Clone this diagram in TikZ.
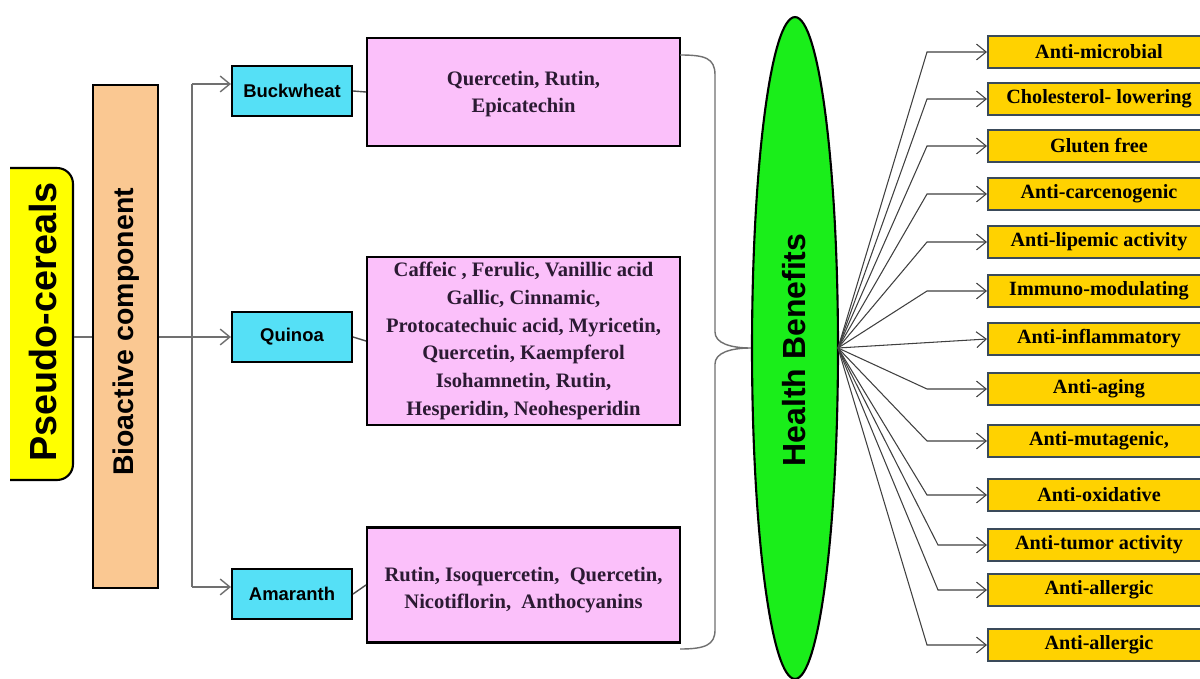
\documentclass[tikz,border=0pt]{standalone}
\usepackage{fontspec}
\setmainfont{Liberation Serif}
\newfontfamily\arialf{Liberation Sans}
\usetikzlibrary{arrows.meta,shapes.geometric}
\definecolor{yellowP}{HTML}{FFFF00}
\definecolor{orangeB}{HTML}{FAC892}
\definecolor{cyanC}{HTML}{55E0F6}
\definecolor{pinkP}{HTML}{FBC0FA}
\definecolor{greenH}{HTML}{1AEE1A}
\definecolor{goldY}{HTML}{FFD200}
\definecolor{goldB}{HTML}{3A4A5A}
\definecolor{connG}{HTML}{707070}
\definecolor{fanG}{HTML}{404040}
\definecolor{pinkT}{HTML}{2B1A33}
\begin{document}
\begin{tikzpicture}[x=0.02cm,y=-0.02cm,
  sbox/.style={draw=black, line width=1.2pt, inner sep=0pt},
  cyanbox/.style={sbox, fill=cyanC, minimum width=2.4cm, minimum height=1.0cm, font=\arialf\bfseries\fontsize{10.5}{12}\selectfont},
  pinkbox/.style={sbox, fill=pinkP, minimum width=6.26cm, align=center, text=pinkT, font=\bfseries\fontsize{11.7}{15.8}\selectfont},
  pinktext/.style={inner sep=0pt, align=center, text=pinkT, font=\bfseries\fontsize{11.7}{15.8}\selectfont},
  goldbox/.style={draw=goldB, line width=1.2pt, fill=goldY, inner sep=0pt, minimum width=4.44cm, minimum height=0.64cm, font=\bfseries\fontsize{11.5}{13}\selectfont},
  conn/.style={draw=connG, line width=0.8pt},
  arr/.style={-{Straight Barb[length=5.5pt,width=9pt]}},
  fan/.style={draw=fanG, line width=0.6pt, -{Straight Barb[length=5.5pt,width=9pt]}},
  vtext/.style={rotate=90, font=\arialf\bfseries, inner sep=0pt}
]
\clip (0,0) rectangle (1200,679);
\fill[white] (0,0) rectangle (1200,679);

% Pseudo-cereals
\begin{scope}
\clip (10,0) rectangle (100,679);
\node[draw=black, line width=1.2pt, fill=yellowP, rounded corners=9pt, minimum width=1.66cm, minimum height=6.24cm, inner sep=0pt] (pc) at (31.5,324) {};
\end{scope}
\node[vtext, font=\arialf\bfseries\fontsize{21.5}{24}\selectfont] (pct) at (43,322) {Pseudo-cereals};

% Bioactive component
\node[sbox, fill=orangeB, minimum width=1.3cm, minimum height=10.06cm] (bio) at (125.5,336.5) {};
\node[vtext, font=\arialf\bfseries\fontsize{16.2}{18}\selectfont] (biot) at (126,332) {Bioactive component};

% cultivars
\node[cyanbox] (bw) at (292,91) {Buckwheat};
\node[cyanbox] (qu) at (292,337) {Quinoa};
\node[cyanbox] (am) at (292,594) {Amaranth};

% compounds
\node[pinkbox, minimum height=2.16cm] (p1) at (523.5,92) {};
\node[pinktext] (p1t) at (523.5,94) {Quercetin, Rutin,\\Epicatechin};
\node[pinkbox, minimum height=3.36cm] (p2) at (523.5,341) {Caffeic , Ferulic, Vanillic acid\\Gallic, Cinnamic,\\Protocatechuic acid, Myricetin,\\Quercetin, Kaempferol\\Isohamnetin, Rutin,\\Hesperidin, Neohesperidin};
\node[pinkbox, minimum height=2.3cm] (p3) at (523.5,585) {};
\node[pinktext] (p3t) at (523.5,590) {Rutin, Isoquercetin,~ Quercetin,\\Nicotiflorin,~ Anthocyanins};

% left connectors
\coordinate (vl) at (192,0);
\coordinate (bwin) at ([yshift=4pt]bw.west);
\coordinate (amin) at ([yshift=4pt]am.west);
\draw[conn] (pc.east |- qu.west) -- (bio.west |- qu.west);
\draw[conn, arr] (bio.east |- qu.west) -- (qu.west);
\draw[conn] (bwin -| vl) -- (amin -| vl);
\draw[conn, arr] (bwin -| vl) -- (bwin);
\draw[conn, arr] (amin -| vl) -- (amin);
\draw[draw=black!70, line width=0.8pt] (bw.east) -- (p1.west);
\draw[draw=black!70, line width=0.8pt] (qu.east) -- (p2.west);
\draw[draw=black!70, line width=0.8pt] (am.east) -- (p3.west);

% Health benefits ellipse
\node[ellipse, draw=black, line width=1.2pt, fill=greenH, minimum width=1.72cm, minimum height=13.24cm, inner sep=0pt] (hb) at (795,348) {};
\node[vtext, font=\arialf\bfseries\fontsize{18.2}{20}\selectfont] (hbt) at (794,350) {Health Benefits};

% brace
\coordinate (bt) at (680,55);
\coordinate (bb) at (680,649);
\draw[draw=connG, line width=0.8pt] (bt) .. controls (705,55) and (715,58) .. (715,75) -- (715,332)
  .. controls (715,343) and (730,348) .. (hb.west)
  .. controls (730,348) and (715,353) .. (715,364) -- (715,630)
  .. controls (715,645) and (705,649) .. (bb);

% benefits
\node[goldbox] (b1) at (1099,52) {Anti-microbial};
\node[goldbox] (b2) at (1099,99) {Cholesterol- lowering};
\node[goldbox] (b3) at (1099,146) {Gluten free};
\node[goldbox] (b4) at (1099,194) {Anti-carcenogenic};
\node[goldbox] (b5) at (1099,242) {Anti-lipemic activity};
\node[goldbox] (b6) at (1099,291) {Immuno-modulating};
\node[goldbox] (b7) at (1099,339) {Anti-inflammatory};
\node[goldbox] (b8) at (1099,389) {Anti-aging};
\node[goldbox] (b9) at (1099,441) {Anti-mutagenic,};
\node[goldbox] (b10) at (1099,495) {Anti-oxidative};
\node[goldbox] (b11) at (1099,545) {Anti-tumor activity};
\node[goldbox] (b12) at (1099,590) {Anti-allergic};
\node[goldbox] (b13) at (1099,645) {Anti-allergic};

\coordinate (fo) at (838,348);
\coordinate (k) at (927,0);
\coordinate (k2) at (938,0);
\foreach \b in {b1,b2,b3,b4,b5,b6,b8,b9,b10,b13}
  \draw[fan] (fo) -- (k |- \b.west) -- (\b.west);
\foreach \b in {b11,b12}
  \draw[fan] (fo) -- (k2 |- \b.west) -- (\b.west);
\draw[fan] (fo) -- (b7.west);
\end{tikzpicture}
\end{document}
